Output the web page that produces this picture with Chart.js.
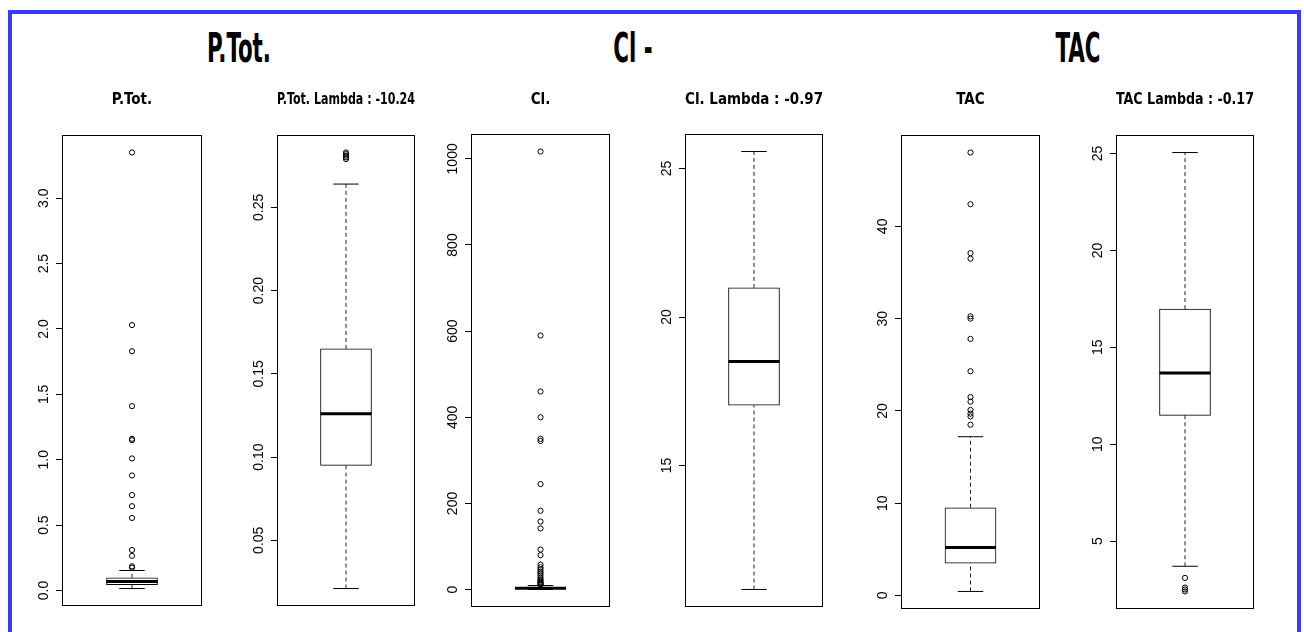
<!DOCTYPE html>
<html>
<head>
<meta charset="utf-8">
<title>Box-Cox boxplots</title>
<script src="https://cdn.jsdelivr.net/npm/chart.js@4.4.0/dist/chart.umd.min.js"></script>
<style>
html, body { margin: 0; padding: 0; background: #fff; }
#page { position: relative; width: 1304px; height: 632px; overflow: hidden; background: #fff; }
#blue { position: absolute; left: 8px; top: 10px; width: 1285px; height: 700px; border: 4px solid #3a3aff; }
.gt { position: absolute; top: 28px; font-family: 'Liberation Sans Narrow', 'DejaVu Sans Condensed', sans-serif;
      font-weight: bold; font-size: 41px; line-height: 41px; white-space: nowrap; color: #000;
      transform: translateX(-50%) scaleX(0.58); }
canvas { position: absolute; }
</style>
</head>
<body>
<div id="page"><div id="blue"></div></div>
<script>
// ---------------- data ----------------
const groupTitles = ["P.Tot.", "Cl -", "TAC"];
const panelTitles = ["P.Tot.", "P.Tot. Lambda : -10.24", "Cl.", "Cl. Lambda : -0.97", "TAC", "TAC Lambda : -0.17"];

// five-number summaries: [lower whisker, Q1, median, Q3, upper whisker]
const ptotStats       = [0.015, 0.045, 0.068, 0.097, 0.153];
const ptotOutliers    = [3.35, 2.03, 1.83, 1.41, 1.16, 1.15, 1.01, 0.88, 0.73, 0.645, 0.555, 0.31, 0.265, 0.185, 0.175];

const ptotLamStats    = [0.021, 0.095, 0.126, 0.165, 0.264];
const ptotLamOutliers = [0.279, 0.280, 0.281, 0.282, 0.283];

const clStats         = [0.3, 2.0, 3.2, 5.0, 9.4];
const clOutliers      = [1017, 590, 460, 400, 350, 345, 245, 183, 158, 142, 93, 80, 58, 52, 47, 42, 38, 33, 28, 24, 21, 18, 16, 14, 12, 11];

const clLamStats      = [10.83, 17.03, 18.5, 20.98, 25.57];
const clLamOutliers   = [];

const tacStats        = [0.43, 3.5, 5.2, 9.5, 17.2];
const tacOutliers     = [48.0, 42.4, 37.1, 36.5, 30.25, 30.0, 27.8, 24.3, 21.5, 21.0, 20.1, 19.7, 19.4, 18.5];

const tacLamStats     = [3.7, 11.49, 13.67, 16.97, 25.05];
const tacLamOutliers  = [3.1, 2.6, 2.5, 2.4];

// y tick spacing and decimals for tick labels
const tickSteps    = [0.5, 0.05, 200, 5, 10, 5];
const tickDecimals = [1, 2, 0, 0, 0, 0];

// ---------------- layout ----------------
const groupCenters = [239, 633, 1078];
const frameLeft    = [62, 277, 471, 685, 901, 1116];
const frameWidth   = [140, 138, 139, 138, 139, 138];
const frameTop     = [135, 135, 134, 134, 135, 135];
const frameBottom  = [606, 606, 607, 607, 609, 609];
const AXIS_W = 62, PAD_R = 3, PAD_B = 20, CANVAS_TOP = 80;
const TICK_FONT = { family: "'Liberation Sans', Arial, sans-serif", size: 14 };
const TITLE_FONT = { family: "'Liberation Sans Narrow', 'DejaVu Sans Condensed', sans-serif", size: 15, weight: 'bold' };

const page = document.getElementById('page');

groupTitles.forEach((t, i) => {
  const d = document.createElement('div');
  d.className = 'gt';
  d.textContent = t;
  d.style.left = groupCenters[i] + 'px';
  page.appendChild(d);
});

const statsList = [ptotStats, ptotLamStats, clStats, clLamStats, tacStats, tacLamStats];
const outList = [ptotOutliers, ptotLamOutliers, clOutliers, clLamOutliers, tacOutliers, tacLamOutliers];

const mctx = document.createElement('canvas').getContext('2d');
function textW(s) {
  mctx.font = `normal ${TICK_FONT.size}px ${TICK_FONT.family}`;
  return mctx.measureText(s).width;
}

const framePlugin = {
  id: 'frame',
  afterDatasetsDraw(chart) {
    const { ctx, chartArea: a } = chart;
    ctx.save();
    ctx.strokeStyle = '#000';
    ctx.lineWidth = 1;
    ctx.strokeRect(Math.round(a.left) + 0.5, Math.round(a.top) + 0.5,
                   Math.round(a.right - a.left) - 1, Math.round(a.bottom - a.top) - 1);
    ctx.restore();
  }
};

statsList.forEach((st, i) => {
  const outs = outList[i];
  const lo = Math.min(st[0], ...outs);
  const hi = Math.max(st[4], ...outs);
  const yMin = lo - 0.04 * (hi - lo);
  const yMax = hi + 0.04 * (hi - lo);
  const step = tickSteps[i], dec = tickDecimals[i];

  // widest tick label, to centre the rotated labels 17.5px left of the frame
  let widest = 0;
  for (let v = Math.ceil(yMin / step - 1e-9) * step; v <= yMax + 1e-9; v += step) {
    widest = Math.max(widest, textW(v.toFixed(dec)));
  }
  const tickLen = 6;
  const labelPad = 17.5 - tickLen - widest / 2;

  const W = AXIS_W + frameWidth[i] + PAD_R;
  const H = frameBottom[i] - CANVAS_TOP + PAD_B;
  const cv = document.createElement('canvas');
  cv.width = W; cv.height = H;
  cv.style.left = (frameLeft[i] - AXIS_W) + 'px';
  cv.style.top = CANVAS_TOP + 'px';
  cv.style.width = W + 'px'; cv.style.height = H + 'px';
  page.appendChild(cv);

  const titleTop = 11;
  const titleBottom = frameTop[i] - CANVAS_TOP - titleTop - Math.round(TITLE_FONT.size * 1.2);

  new Chart(cv, {
    type: 'bar',
    data: {
      datasets: [
        { type: 'scatter', label: 'median', data: [{ x: 0, y: st[2] }],
          pointStyle: 'line', pointRadius: 25.5, pointHoverRadius: 25.5, pointBorderWidth: 3, pointHoverBorderWidth: 3,
          pointBorderColor: '#000', pointBackgroundColor: '#000', borderColor: '#000' },
        { type: 'scatter', label: 'caps', data: [{ x: 0, y: st[0] }, { x: 0, y: st[4] }],
          pointStyle: 'line', pointRadius: 12.75, pointHoverRadius: 12.75, pointBorderWidth: 1, pointHoverBorderWidth: 1,
          pointBorderColor: '#000', pointBackgroundColor: '#000', borderColor: '#000' },
        { type: 'scatter', label: 'outliers', data: outs.map(v => ({ x: 0, y: v })),
          pointStyle: 'circle', pointRadius: 2.6, pointHoverRadius: 2.6, pointBorderWidth: 1, pointHoverBorderWidth: 1,
          pointBorderColor: '#000', pointBackgroundColor: 'rgba(255,255,255,0)', borderColor: '#000' },
        { type: 'bar', label: 'box', data: [{ x: 0, y: [st[1], st[3]] }],
          barThickness: 51, backgroundColor: '#fff', borderColor: '#000', borderWidth: 1, borderSkipped: false },
        { type: 'scatter', label: 'upper whisker', data: [{ x: 0, y: st[3] }, { x: 0, y: st[4] }],
          showLine: true, pointRadius: 0, pointHoverRadius: 0, borderColor: '#222', borderWidth: 1, borderDash: [4, 3] },
        { type: 'scatter', label: 'lower whisker', data: [{ x: 0, y: st[0] }, { x: 0, y: st[1] }],
          showLine: true, pointRadius: 0, pointHoverRadius: 0, borderColor: '#222', borderWidth: 1, borderDash: [4, 3] }
      ]
    },
    options: {
      responsive: false,
      animation: false,
      devicePixelRatio: 1,
      events: [],
      layout: { autoPadding: false, padding: { left: 0, right: PAD_R, top: 0, bottom: PAD_B } },
      plugins: {
        legend: { display: false },
        tooltip: { enabled: false },
        title: {
          display: true, text: panelTitles[i], color: '#000', fullSize: false,
          font: TITLE_FONT, padding: { top: titleTop, bottom: titleBottom }
        }
      },
      scales: {
        x: { type: 'linear', display: false, min: -1, max: 1, offset: false },
        y: {
          type: 'linear', position: 'left', min: yMin, max: yMax, beginAtZero: false,
          afterFit: s => { s.width = AXIS_W; },
          border: { display: false },
          grid: { display: true, drawOnChartArea: false, drawTicks: true, tickLength: tickLen, color: '#000', lineWidth: 1 },
          ticks: {
            stepSize: step, includeBounds: false, autoSkip: false,
            minRotation: 90, maxRotation: 90, crossAlign: 'center', padding: labelPad,
            color: '#000', font: TICK_FONT,
            callback: v => Number(v).toFixed(dec)
          }
        }
      }
    },
    plugins: [framePlugin]
  });
});
</script>
</body>
</html>
